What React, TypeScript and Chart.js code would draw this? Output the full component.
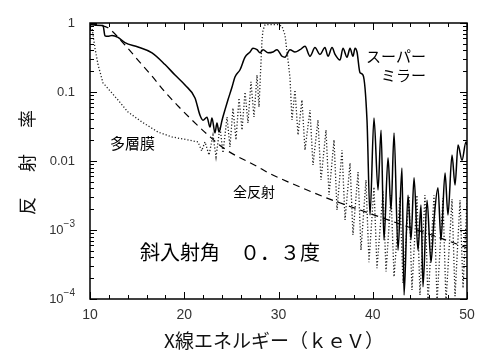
import React, { useEffect, useRef } from 'react';
import { Chart, registerables } from 'chart.js';
Chart.register(...registerables);

// スーパーミラー (solid)
const mirrorE = [10.0, 10.6, 11.38, 11.59, 11.91, 12.33, 12.97, 13.71, 15.09, 16.58, 17.96, 19.02, 20.08, 21.14, 21.67, 21.99, 22.41, 22.73, 22.94, 23.26, 23.47, 23.69, 24.01, 24.32, 24.64, 25.07, 25.38, 25.92, 26.45, 26.98, 27.29, 27.72, 28.04, 28.36, 28.89, 29.42, 29.84, 30.37, 30.69, 31.22, 31.75, 32.28, 32.81, 33.34, 33.87, 34.40, 34.93, 35.25, 35.68, 36.00, 36.53, 36.84, 37.27, 37.59, 37.90, 38.12, 38.33, 38.65, 38.97, 39.39, 39.71, 40.13, 40.56, 40.88, 41.19, 41.62, 41.94, 42.26, 42.68, 43.10, 43.32, 43.74, 44.06, 44.38, 44.80, 45.12, 45.33, 45.76, 46.18, 46.50, 46.92, 47.24, 47.67, 47.98, 48.41, 48.73, 49.05, 49.47, 49.89, 50.0];
const mirrorR = [0.95, 0.93, 0.92, 0.65, 0.64, 0.66, 0.62, 0.52, 0.45, 0.37, 0.25, 0.176, 0.126, 0.082, 0.046, 0.039, 0.043, 0.031, 0.042, 0.0255, 0.0355, 0.0263, 0.039, 0.055, 0.077, 0.118, 0.165, 0.21, 0.32, 0.38, 0.43, 0.41, 0.37, 0.41, 0.37, 0.38, 0.41, 0.33, 0.32, 0.41, 0.38, 0.41, 0.46, 0.33, 0.44, 0.35, 0.44, 0.33, 0.44, 0.35, 0.29, 0.43, 0.32, 0.43, 0.33, 0.43, 0.38, 0.19, 0.176, 0.039, 0.00165, 0.042, 0.0038, 0.028, 0.00072, 0.0111, 0.00195, 0.0255, 0.00051, 0.0079, 0.000114, 0.0032, 0.00072, 0.0057, 0.00051, 0.0023, 0.00015, 0.0027, 0.00034, 0.0014, 0.0041, 0.00072, 0.0067, 0.00165, 0.0122, 0.0045, 0.0171, 0.0103, 0.0189, 0.0171];

// 全反射 (dashed)
const totalE = [10.0, 11.06, 11.91, 13.71, 15.09, 16.58, 17.96, 19.34, 20.82, 22.52, 24.32, 27.83, 28.78, 32.28, 35.15, 38.65, 42.89, 47.13, 50.0];
const totalR = [0.97, 0.93, 0.85, 0.48, 0.29, 0.17, 0.1, 0.0627, 0.0393, 0.0238, 0.0149, 0.0082, 0.0069, 0.0042, 0.0029, 0.00195, 0.00122, 0.00077, 0.00055];

// 多層膜 (dotted)
const multiE = [10.0, 10.21, 10.53, 10.85, 11.38, 11.59, 12.97, 14.03, 15.52, 17.21, 18.70, 20.40, 21.46, 21.85, 22.20, 22.63, 23.05, 23.37, 23.79, 24.11, 24.54, 24.85, 25.17, 25.49, 25.81, 26.13, 26.45, 26.76, 27.08, 27.40, 27.72, 27.93, 28.25, 28.36, 28.57, 29.10, 29.95, 30.37, 30.69, 31.01, 31.22, 31.43, 31.75, 32.07, 32.49, 32.81, 33.34, 33.66, 34.19, 34.51, 35.04, 35.36, 35.89, 36.21, 36.74, 37.06, 37.59, 37.90, 38.44, 38.75, 39.28, 39.60, 40.13, 40.45, 41.09, 41.41, 41.94, 42.26, 42.89, 43.21, 43.85, 44.16, 44.69, 45.01, 45.54, 45.86, 46.50, 46.82, 47.45, 47.77, 48.41, 48.73, 49.26, 49.58, 50.0];
const multiR = [1.0, 0.85, 0.43, 0.25, 0.135, 0.126, 0.0766, 0.0513, 0.0367, 0.0263, 0.0223, 0.0202, 0.0189, 0.014, 0.0189, 0.0122, 0.0238, 0.0114, 0.0311, 0.0131, 0.0434, 0.016, 0.0586, 0.0202, 0.0818, 0.0281, 0.1, 0.0355, 0.14, 0.0434, 0.176, 0.0606, 0.57, 0.79, 0.94, 0.95, 0.95, 0.9, 0.67, 0.29, 0.16, 0.0393, 0.107, 0.0238, 0.0766, 0.0144, 0.0548, 0.00875, 0.0393, 0.00531, 0.0281, 0.00322, 0.0202, 0.00195, 0.0144, 0.0014, 0.00935, 0.00085, 0.0069, 0.00051, 0.0053, 0.00034, 0.0042, 0.00028, 0.0036, 0.00025, 0.0032, 0.00021, 0.003, 0.00017, 0.0031, 0.000135, 0.0032, 0.000114, 0.0032, 0.00009, 0.0032, 0.00009, 0.0029, 0.00009, 0.0028, 0.00011, 0.0027, 0.000144, 0.0027];

const xTickValues = [10, 20, 30, 40, 50];
const xTickLabels = ['10', '20', '30', '40', '50'];
const yTickValues = [1, 0.1, 0.01, 0.001, 0.0001];
const yTickBase = ['1', '0.1', '0.01', '10', '10'];
const yTickExp = ['', '', '', '−3', '−4'];

const CJK = "'Noto Sans CJK JP', sans-serif";
const NUM = "'Liberation Sans', Arial, sans-serif";

const decor = {
  id: 'decor',
  afterDatasetsDraw(chart: any) {
    const { ctx, chartArea: a, scales } = chart;
    const xs = scales.x;
    const ys = scales.y;
    ctx.save();
    ctx.strokeStyle = '#000';
    ctx.lineWidth = 1.5;
    ctx.setLineDash([]);
    ctx.strokeRect(a.left, a.top, a.right - a.left, a.bottom - a.top);
    ctx.lineWidth = 1;
    const seg = (x1: number, y1: number, x2: number, y2: number) => {
      ctx.beginPath();
      ctx.moveTo(x1, y1);
      ctx.lineTo(x2, y2);
      ctx.stroke();
    };
    for (let v = 10; v <= 50; v += 2) {
      const px = Math.round(xs.getPixelForValue(v)) + 0.5;
      const len = v % 10 === 0 ? 7 : 4;
      seg(px, a.bottom, px, a.bottom - len);
      seg(px, a.top, px, a.top + len);
    }
    for (let d = -4; d <= 0; d++) {
      for (let m = 1; m < 10; m++) {
        const v = m * Math.pow(10, d);
        if (v > 1.0001) break;
        const py = Math.round(ys.getPixelForValue(v)) + 0.5;
        const len = m === 1 ? 7 : 4;
        seg(a.left, py, a.left + len, py);
        seg(a.right, py, a.right - len, py);
      }
    }
    ctx.fillStyle = '#333';
    ctx.textBaseline = 'middle';
    ctx.font = `14px ${NUM}`;
    ctx.textAlign = 'center';
    xTickValues.forEach((v, i) => {
      ctx.fillText(xTickLabels[i], xs.getPixelForValue(v), a.bottom + 16);
    });
    yTickValues.forEach((v, i) => {
      const py = ys.getPixelForValue(v);
      const right = 75;
      ctx.textAlign = 'right';
      if (yTickExp[i]) {
        ctx.font = `10px ${NUM}`;
        const ew = ctx.measureText(yTickExp[i]).width;
        ctx.fillText(yTickExp[i], right, py - 6);
        ctx.font = `13px ${NUM}`;
        ctx.fillText(yTickBase[i], right - ew, py);
      } else {
        ctx.font = `13px ${NUM}`;
        ctx.fillText(yTickBase[i], right, py);
      }
    });
    ctx.fillStyle = '#111';
    ctx.textAlign = 'center';
    ctx.font = `19px ${CJK}`;
    ctx.fillText('X線エネルギー（ｋｅＶ）', 274, 341);
    const yt = ['反', '射', '率'];
    const yc = [206, 163, 119];
    ctx.font = `18px ${CJK}`;
    yt.forEach((ch, i) => {
      ctx.save();
      ctx.translate(27, yc[i]);
      ctx.rotate(-Math.PI / 2);
      ctx.fillText(ch, 0, 0);
      ctx.restore();
    });
    ctx.fillStyle = '#000';
    ctx.textAlign = 'right';
    ctx.font = `15px ${CJK}`;
    ctx.fillText('スーパー', 426, 56);
    ctx.fillText('ミラー', 426, 75);
    ctx.textAlign = 'left';
    ctx.fillText('多層膜', 110, 143);
    ctx.font = `14px ${CJK}`;
    ctx.fillText('全反射', 233, 192);
    ctx.font = `20px ${CJK}`;
    ctx.fillText('斜入射角　０．３度', 140, 252);
    ctx.restore();
  },
};

export default function App() {
  const ref = useRef<HTMLCanvasElement | null>(null);
  useEffect(() => {
    if (!ref.current) return;
    const chart = new Chart(ref.current, {
      type: 'line',
      data: {
        datasets: [
          {
            label: 'スーパーミラー',
            data: mirrorE.map((x, i) => ({ x, y: mirrorR[i] })),
            borderColor: '#000',
            borderWidth: 1.5,
            pointRadius: 0,
            cubicInterpolationMode: 'monotone',
          },
          {
            label: '全反射',
            data: totalE.map((x, i) => ({ x, y: totalR[i] })),
            borderColor: '#000',
            borderWidth: 1.2,
            borderDash: [7, 5],
            pointRadius: 0,
            cubicInterpolationMode: 'monotone',
          },
          {
            label: '多層膜',
            data: multiE.map((x, i) => ({ x, y: multiR[i] })),
            borderColor: '#222',
            borderWidth: 1.3,
            borderDash: [1.2, 2],
            pointRadius: 0,
            tension: 0,
          },
        ],
      },
      options: {
        responsive: false,
        animation: false,
        events: [],
        layout: { padding: { left: 90, right: 33, top: 23, bottom: 64 } },
        scales: {
          x: { type: 'linear', min: 10, max: 50, display: false },
          y: { type: 'logarithmic', min: 0.0001, max: 1, display: false },
        },
        plugins: { legend: { display: false }, tooltip: { enabled: false } },
      },
      plugins: [decor],
    } as any);
    return () => chart.destroy();
  }, []);
  return (
    <div style={{ position: 'absolute', left: 0, top: 0, width: 500, height: 363, background: '#fff' }}>
      <canvas ref={ref} width={500} height={363} style={{ display: 'block' }} />
    </div>
  );
}
